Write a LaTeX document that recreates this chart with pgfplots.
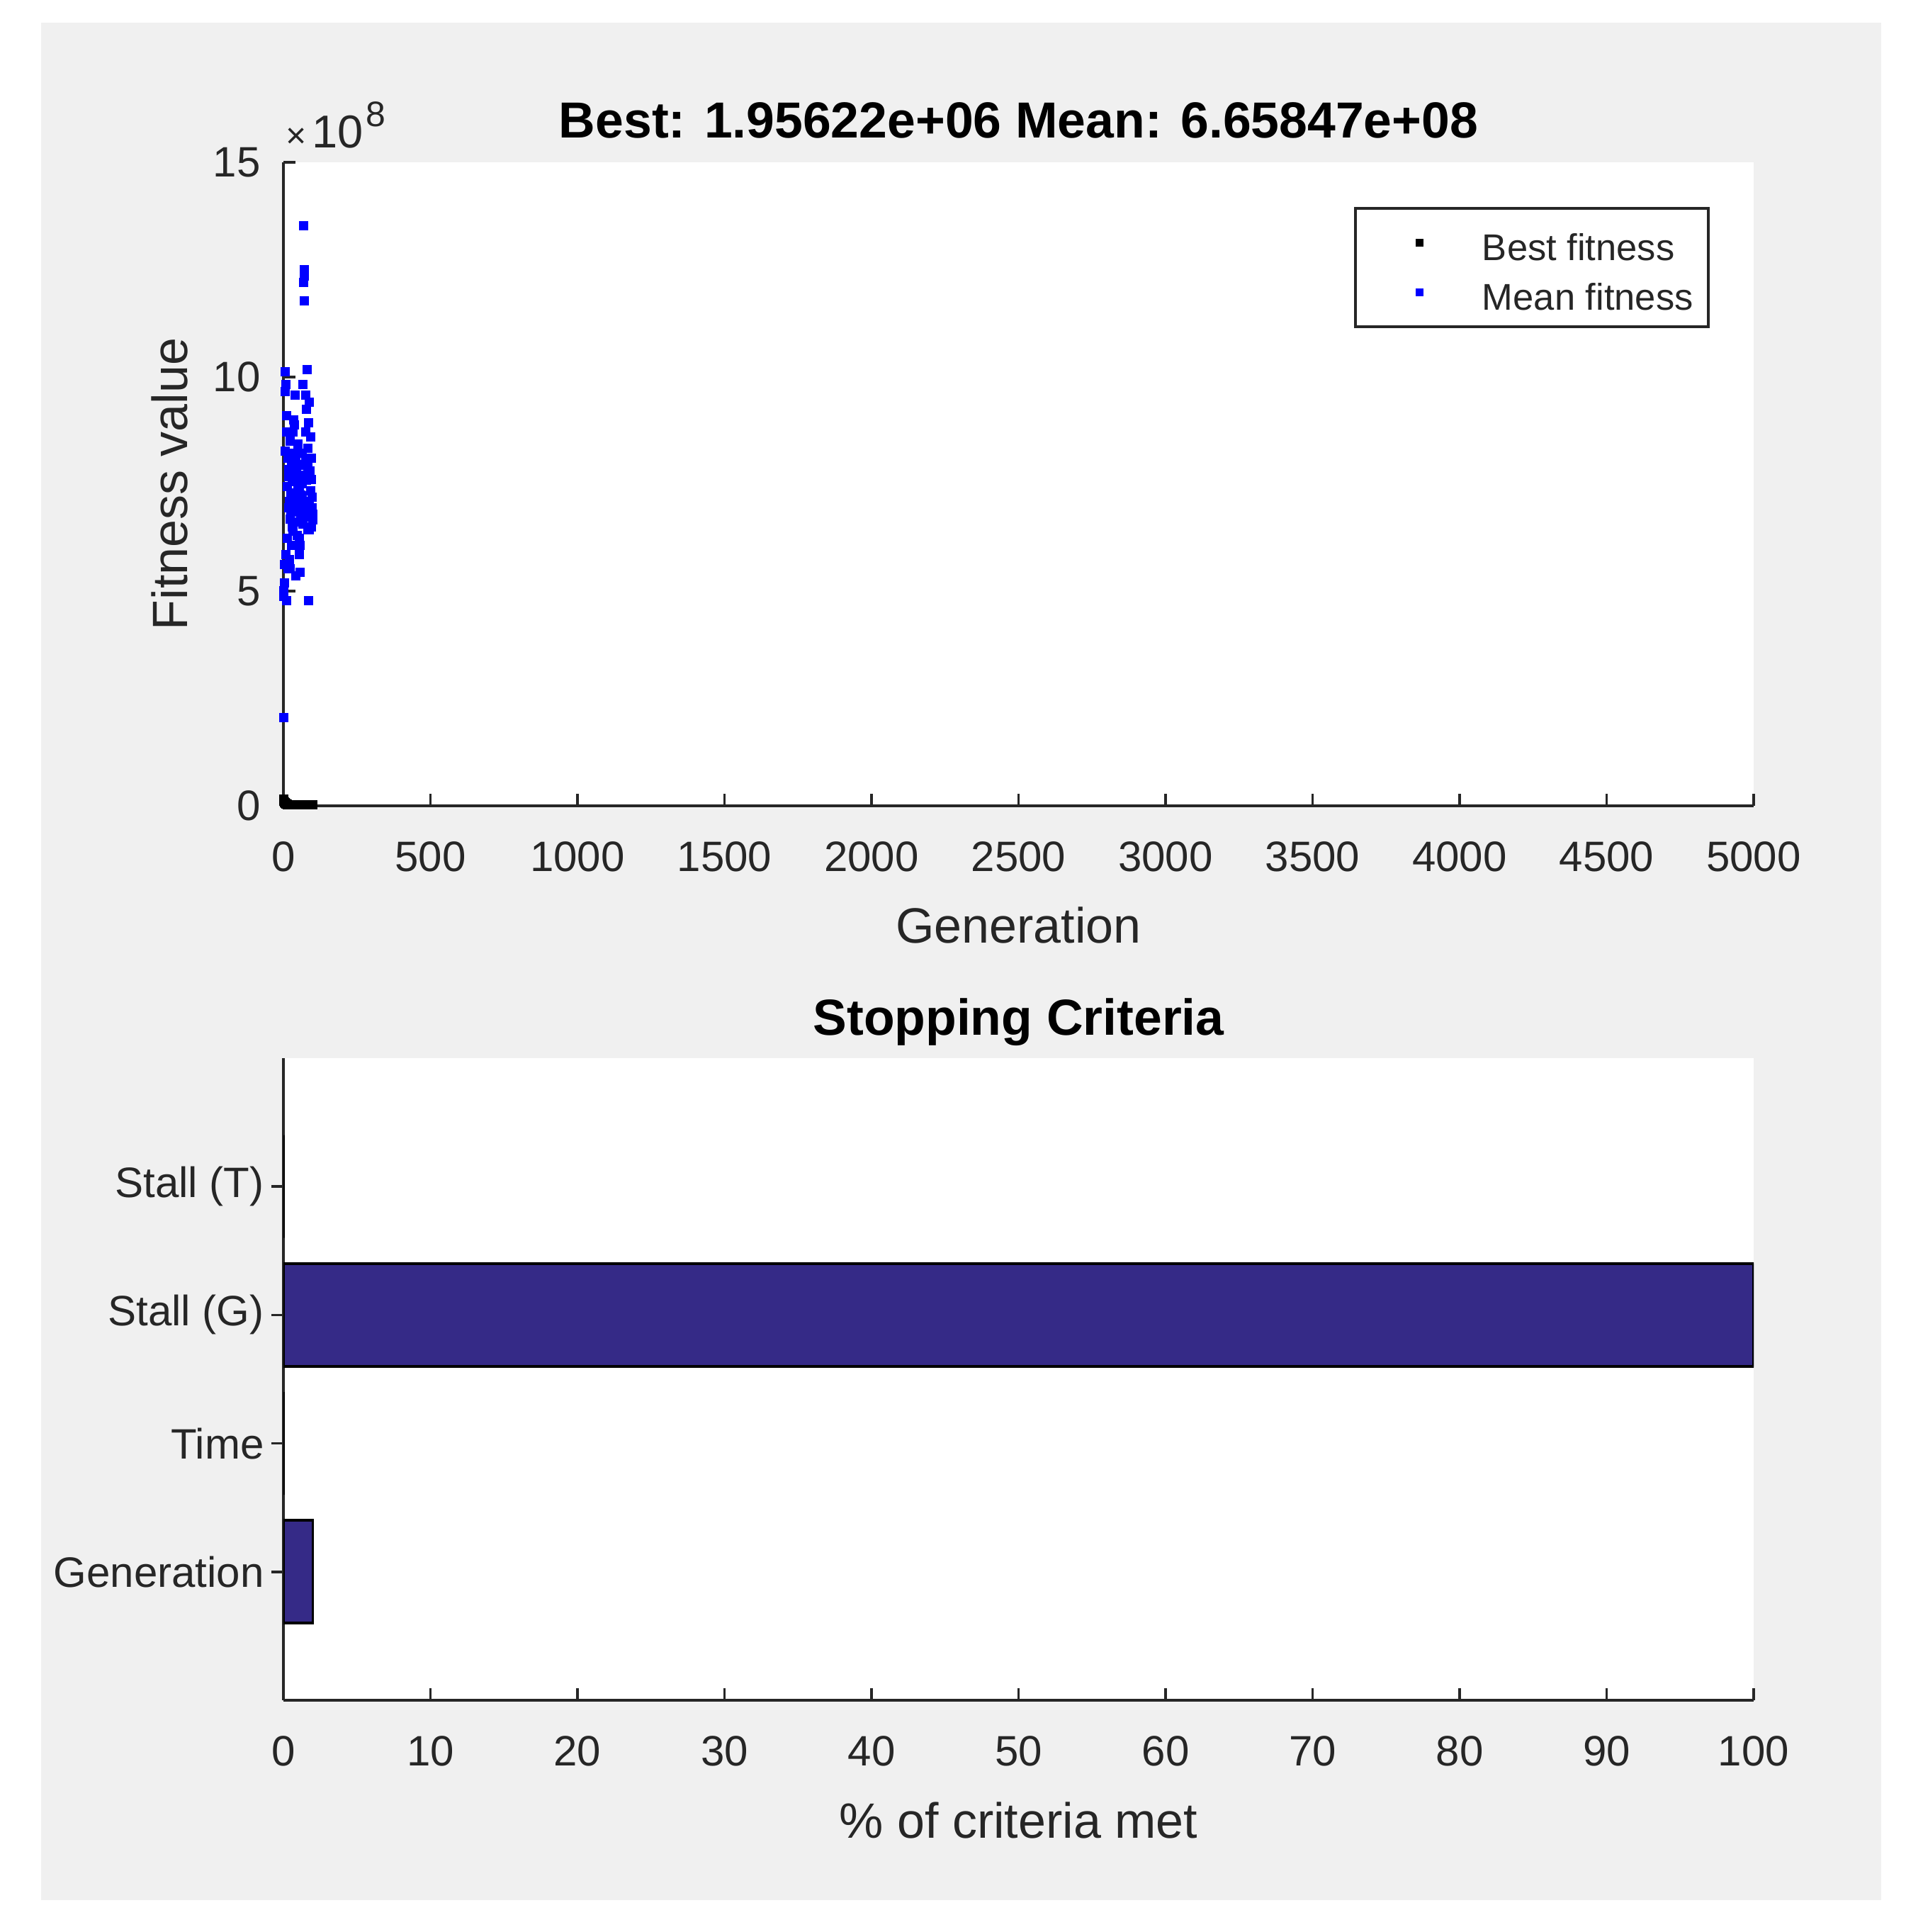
\documentclass[border=0pt]{standalone}
\usepackage{pgfplots}
\pgfplotsset{compat=1.18}
\usepackage{fontspec}
\setmainfont{Liberation Sans}
\definecolor{bggray}{RGB}{240,240,240}
\definecolor{axgray}{RGB}{38,38,38}
\definecolor{parula1}{RGB}{53,42,135}
\pgfplotsset{
  mlstyle/.style={
    scale only axis, width=415pt,
    axis x line=bottom, axis y line=left,
    axis line style={-, line width=0.75pt, draw=axgray},
    tick align=inside,
    major tick length=3.4pt,
    every tick/.style={line width=0.75pt, draw=axgray},
    tick label style={font=\fontsize{12}{14}\selectfont, text=axgray},
    /pgf/number format/assume math mode=true,
    /pgf/number format/1000 sep={},
    scaled x ticks=false, scaled y ticks=false,
    xticklabel style={anchor=base, inner sep=0pt, yshift=-18.5pt},
    yticklabel style={anchor=east, inner sep=0pt, xshift=-6.3pt},
    label style={font=\fontsize{14}{16}\selectfont, text=axgray},
    every axis title shift=0pt,
    title style={font=\fontsize{14.3}{17}\selectfont\bfseries, text=black},
    axis background/.style={fill=white},
  }
}
\begin{document}
\begin{tikzpicture}
\fill[white] (0,0) rectangle (537.8pt,545.2pt);
\fill[bggray] (11.6pt,9pt) rectangle (531pt,538.8pt);
% ---------- top: fitness ----------
\begin{axis}[mlstyle, height=181.6pt, at={(80pt,317.8pt)}, anchor=south west,
  xmin=0, xmax=5000, ymin=0, ymax=15,
  xtick={0,500,...,5000}, ytick={0,5,10,15},
  clip=false,
  title={Best: 1.95622e+06 Mean: 6.65847e+08},
  title style={at={(axis description cs:0.5,1.038)}, anchor=base},
  xlabel={Generation},
  xlabel style={at={(axis description cs:0.5,-0.2126)}, anchor=base},
  ylabel={Fitness value},
  ylabel style={at={(axis description cs:-0.0651,0.5)}, anchor=base},
  legend style={at={(axis description cs:1,1)}, anchor=north east,
    xshift=-12.4pt, yshift=-12.6pt, draw=axgray, line width=0.75pt, fill=white,
    font=\fontsize{10.5}{12}\selectfont, text=axgray,
    inner xsep=4.3pt, inner ysep=4.1pt, row sep=2.8pt,
    nodes={inner sep=0pt, text height=10.7pt, text depth=0.5pt}},
  legend cell align=left,
  legend image code/.code={\draw[#1,only marks,mark size=1pt] plot coordinates {(13.5pt,0pt)}; \path (0pt,0pt) (30.8pt,0pt);},
]
\addplot[only marks, mark=square*, mark size=1.2pt, mark options={draw=black, fill=black, line width=0pt}] table[x=g, y=v] {
g v
0 0.16
1 0.13
2 0.11
3 0.09
4 0.08
5 0.07
6 0.06
7 0.055
8 0.05
9 0.045
10 0.04
11 0.038
12 0.036
13 0.034
14 0.032
15 0.03
16 0.029
17 0.028
18 0.027
19 0.026
20 0.025
21 0.024
22 0.024
23 0.023
24 0.023
25 0.022
26 0.022
27 0.022
28 0.021
29 0.021
30 0.021
31 0.021
32 0.020
33 0.020
34 0.020
35 0.020
36 0.020
37 0.020
38 0.020
39 0.020
40 0.020
41 0.0196
42 0.0196
43 0.0196
44 0.0196
45 0.0196
46 0.0196
47 0.0196
48 0.0196
49 0.0196
50 0.0196
51 0.0196
52 0.0196
53 0.0196
54 0.0196
55 0.0196
56 0.0196
57 0.0196
58 0.0196
59 0.0196
60 0.0196
61 0.0196
62 0.0196
63 0.0196
64 0.0196
65 0.0196
66 0.0196
67 0.0196
68 0.0196
69 0.0196
70 0.0196
71 0.0196
72 0.0196
73 0.0196
74 0.0196
75 0.0196
76 0.0196
77 0.0196
78 0.0196
79 0.0196
80 0.0196
81 0.0196
82 0.0196
83 0.0196
84 0.0196
85 0.0196
86 0.0196
87 0.0196
88 0.0196
89 0.0196
90 0.0196
91 0.0196
92 0.0196
93 0.0196
94 0.0196
95 0.0196
96 0.0196
97 0.0196
98 0.0196
99 0.0196
100 0.0196
};
\addlegendentry{Best fitness}
\addplot[only marks, mark=square*, mark size=1.2pt, color=blue, mark options={draw=blue, fill=blue, line width=0pt}] table[x=g, y=v] {
g v
0 2.05
1 5.02
2 4.88
3 5.19
4 5.62
5 8.26
6 10.12
7 9.65
8 5.85
9 9.82
10 4.79
11 8.71
12 9.09
13 6.23
14 7.44
15 8.10
16 5.52
17 6.94
18 7.83
19 7.67
20 5.74
21 7.10
22 6.68
23 8.50
24 5.52
25 7.27
26 6.86
27 6.07
28 7.90
29 6.50
30 7.55
31 8.05
32 8.71
33 6.40
34 8.21
35 7.30
36 8.99
37 6.95
38 8.88
39 7.60
40 9.57
41 6.61
42 8.00
43 5.36
44 7.15
45 7.80
46 6.85
47 7.95
48 6.30
49 7.40
50 8.43
51 7.05
52 7.67
53 6.23
54 5.85
55 7.44
56 5.45
57 6.07
58 7.70
59 6.75
60 7.25
61 7.10
62 6.90
63 7.50
64 8.21
65 7.22
66 9.82
67 6.56
68 12.20
69 13.52
70 12.50
71 11.77
72 12.35
73 7.93
74 7.09
75 8.71
76 8.00
77 9.57
78 7.59
79 9.24
80 6.73
81 10.17
82 8.33
83 6.43
84 7.90
85 4.79
86 8.93
87 7.00
88 6.43
89 9.40
90 7.80
91 6.90
92 8.60
93 7.35
94 6.50
95 8.10
96 7.60
97 6.95
98 7.20
99 6.80
100 6.66
};
\addlegendentry{Mean fitness}
\node[anchor=base west, inner sep=0pt, text=axgray] at (axis description cs:0.0014,1.022)
  {{\fontsize{10}{10}\selectfont ×}\kern1.5pt{\fontsize{13}{14}\selectfont 10}\kern0.8pt\raisebox{6pt}{\fontsize{10}{10}\selectfont 8}};
\end{axis}
% ---------- bottom: stopping criteria ----------
\begin{axis}[mlstyle, height=181.2pt, at={(80pt,65.4pt)}, anchor=south west,
  xmin=0, xmax=100, ymin=0, ymax=5,
  xtick={0,10,...,100}, ytick={1,2,3,4},
  yticklabels={Generation,Time,Stall (G),Stall (T)},
  yticklabel style={xshift=4.4pt},
  xbar, bar width=0.8,
  title={Stopping Criteria},
  title style={at={(axis description cs:0.5,1.0359)}, anchor=base},
  xlabel={\% of criteria met},
  xlabel style={at={(axis description cs:0.5,-0.2152)}, anchor=base},
]
\addplot[fill=parula1, draw=black, line width=0.75pt] coordinates {(2,1) (0,2) (100,3) (0,4)};
\end{axis}
\end{tikzpicture}
\end{document}
